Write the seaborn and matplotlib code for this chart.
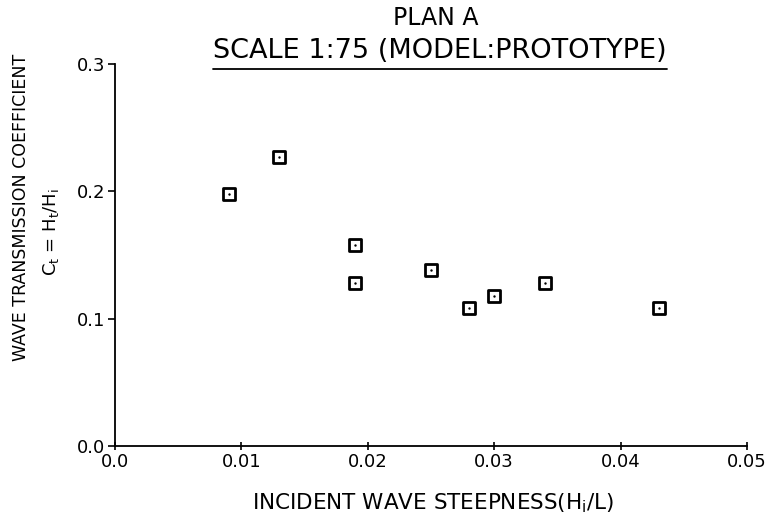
import matplotlib
matplotlib.use("Agg")
import matplotlib.pyplot as plt
from matplotlib.markers import MarkerStyle
from matplotlib.lines import Line2D
import seaborn as sns
import pandas as pd

# Measured test results, Plan A
steepness = [0.009, 0.013, 0.019, 0.019, 0.025, 0.028, 0.030, 0.034, 0.043]
transmission = [0.198, 0.227, 0.158, 0.128, 0.138, 0.108, 0.118, 0.128, 0.108]

x_ticks = [0.0, 0.01, 0.02, 0.03, 0.04, 0.05]
x_tick_labels = ["0.0", "0.01", "0.02", "0.03", "0.04", "0.05"]
y_ticks = [0.0, 0.1, 0.2, 0.3]
y_tick_labels = ["0.0", "0.1", "0.2", "0.3"]

title_line1 = "PLAN A"
title_line2 = "SCALE 1:75 (MODEL:PROTOTYPE)"
x_label = r"INCIDENT WAVE STEEPNESS(H$_{\mathrm{i}}$/L)"
y_label1 = "WAVE TRANSMISSION COEFFICIENT"
y_label2 = r"C$_{\mathrm{t}}$ = H$_{\mathrm{t}}$/H$_{\mathrm{i}}$"

df = pd.DataFrame({"steepness": steepness, "transmission": transmission})

sns.set_theme(style="ticks")
plt.rcParams["font.family"] = ["DejaVu Sans"]
plt.rcParams["mathtext.fontset"] = "dejavusans"
plt.rcParams["text.color"] = "black"

W, H = 784, 522
fig = plt.figure(figsize=(W / 100, H / 100), dpi=100)
ax = fig.add_axes([115 / W, 1 - 446 / H, 632 / W, (446 - 64) / H])

# open square with rounded corners and a centre dot
box = MarkerStyle("s", joinstyle="round")
sns.scatterplot(data=df, x="steepness", y="transmission", marker=box, s=72,
                color="white", edgecolor="black", linewidth=2.0, ax=ax,
                zorder=3, clip_on=False)
sns.scatterplot(data=df, x="steepness", y="transmission", marker="o", s=3,
                color="black", edgecolor="black", linewidth=0, ax=ax,
                zorder=4, clip_on=False)

ax.set_xlim(0, 0.05)
ax.set_ylim(0, 0.3)
ax.set_xticks(x_ticks)
ax.set_xticklabels(x_tick_labels)
ax.set_yticks(y_ticks)
ax.set_yticklabels(y_tick_labels)
ax.set_xlabel("")
ax.set_ylabel("")

sns.despine(ax=ax)
for side in ("left", "bottom"):
    ax.spines[side].set_color("black")
    ax.spines[side].set_linewidth(1.3)
ax.tick_params(axis="both", colors="black", labelcolor="black",
               labelsize=13, width=1.2)
ax.tick_params(axis="x", direction="inout", length=6, pad=2)
ax.tick_params(axis="y", direction="out", length=5, pad=2)

fig.text(433 / W, 1 - 503 / H, x_label, ha="center", va="center",
         fontsize=15.5, color="black")
fig.text(21 / W, 1 - 207 / H, y_label1, ha="center", va="center",
         rotation=90, fontsize=12.5, color="black")
fig.text(51 / W, 1 - 232 / H, y_label2, ha="center", va="center",
         rotation=90, fontsize=13, color="black")

fig.text(436 / W, 1 - 18 / H, title_line1, ha="center", va="center",
         fontsize=17, color="black")
t2 = fig.text(440 / W, 1 - 51 / H, title_line2, ha="center", va="center",
              fontsize=19.5, color="black")

# underline the scale line of the title
fig.canvas.draw()
bb = t2.get_window_extent()
y_u = 1 - 69 / H
fig.add_artist(Line2D([bb.x0 / W, bb.x1 / W], [y_u, y_u],
                      transform=fig.transFigure, color="black", linewidth=1.3))

fig.savefig("out.png", dpi=100, facecolor="white")
